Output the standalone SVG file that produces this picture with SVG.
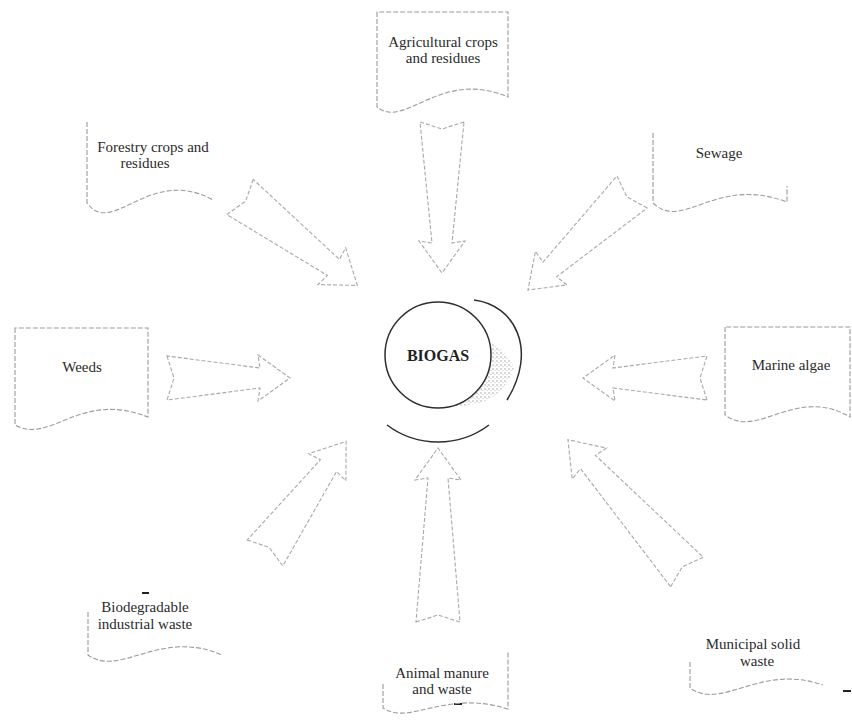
<svg xmlns="http://www.w3.org/2000/svg" width="852" height="721" viewBox="0 0 852 721">
<style>
.box{fill:none;stroke:#9c9c9c;stroke-width:1.1;stroke-dasharray:5 2}
.arr{fill:none;stroke:#a9a9a9;stroke-width:1.1;stroke-dasharray:4 2}
.lbl{font-family:"Liberation Serif","Times New Roman",serif;font-size:15px;fill:#2b2b2b;text-anchor:middle}
.ring{fill:none;stroke:#2e2e2e;stroke-width:1.5}
.mark{stroke:#222;stroke-width:2}
</style>
<defs>
<pattern id="stip" width="4" height="4" patternUnits="userSpaceOnUse"><circle cx="1" cy="1" r="0.8" fill="#888"/><circle cx="3" cy="2.6" r="0.6" fill="#a8a8a8"/></pattern>
</defs>
<rect width="852" height="721" fill="#fff"/>

<g id="biogas">
<path d="M491,343 A53 53 0 0 1 453,406 Q500,408 514,368 Q506,350 491,343 Z" fill="url(#stip)" opacity="0.75"/>
<circle class="ring" cx="438" cy="355" r="53"/>
<path class="ring" d="M474,300 C515,305 538,350 507,400"/>
<path class="ring" d="M387,425 A85 85 0 0 0 489,425"/>
<text x="438" y="361" style="font-family:'Liberation Serif','Times New Roman',serif;font-size:16px;font-weight:bold;fill:#222;text-anchor:middle">BIOGAS</text>
</g>

<g id="agricultural">
<path class="box" d="M377,12 V107 C405,130 440,68 508,97 V12 Z"/>
<text class="lbl" x="443" y="47">Agricultural crops</text>
<text class="lbl" x="443" y="63">and residues</text>
</g>

<g id="forestry">
<path class="box" d="M87,122 V203 C112,238 150,165 213,200"/>
<text class="lbl" x="153" y="152">Forestry crops and</text>
<text class="lbl" x="145" y="168">residues</text>
</g>

<g id="sewage">
<path class="box" d="M653,133 V203 C683,232 715,175 787,202 V186"/>
<text class="lbl" x="719" y="158">Sewage</text>
</g>

<g id="weeds">
<path class="box" d="M15,328 V425 C50,445 80,390 148,417 V328 Z"/>
<text class="lbl" x="82" y="372">Weeds</text>
</g>

<g id="marine">
<path class="box" d="M725,327 V415 C758,440 795,385 850,417 V327 Z"/>
<text class="lbl" x="791" y="370">Marine algae</text>
</g>

<g id="biodegradable">
<line class="mark" x1="142" y1="593" x2="149" y2="593"/>
<path class="box" d="M88,612 V655 C120,678 160,628 222,655"/>
<text class="lbl" x="145" y="612">Biodegradable</text>
<text class="lbl" x="145" y="629">industrial waste</text>
</g>

<g id="municipal">
<line class="mark" x1="843" y1="691" x2="851" y2="691"/>
<path class="box" d="M690,662 V688 C722,711 760,663 823,685"/>
<text class="lbl" x="753" y="649">Municipal solid</text>
<text class="lbl" x="757" y="666">waste</text>
</g>

<g id="animal">
<line class="mark" x1="454" y1="704" x2="462" y2="704"/>
<path class="box" d="M383,684 V708 C410,726 445,689 508,709 V652"/>
<text class="lbl" x="442" y="678">Animal manure</text>
<text class="lbl" x="442" y="694">and waste</text>
</g>

<g id="connectors">
<path class="arr" transform="translate(442,122) rotate(90)" d="M0,-22 L7,0 L0,22 L121,10 L119,23 L151,0 L119,-23 L121,-10 Z"/>
<path class="arr" transform="translate(240,197) rotate(37)" d="M0,-22 L7,0 L0,22 L117,10 L115,23 L147,0 L115,-23 L117,-10 Z"/>
<path class="arr" transform="translate(632,192) rotate(136.7)" d="M0,-22 L7,0 L0,22 L113,10 L111,23 L143,0 L111,-23 L113,-10 Z"/>
<path class="arr" transform="translate(167,378)" d="M0,-22 L7,0 L0,22 L93,10 L91,23 L123,0 L91,-23 L93,-10 Z"/>
<path class="arr" transform="translate(707,378) rotate(180)" d="M0,-22 L7,0 L0,22 L94,10 L92,23 L124,0 L92,-23 L94,-10 Z"/>
<path class="arr" transform="translate(265,553) rotate(-54)" d="M0,-22 L7,0 L0,22 L108,10 L106,23 L138,0 L106,-23 L108,-10 Z"/>
<path class="arr" transform="translate(438,622) rotate(-90)" d="M0,-22 L7,0 L0,22 L144,10 L142,23 L174,0 L142,-23 L144,-10 Z"/>
<path class="arr" transform="translate(687,572) rotate(-132)" d="M0,-22 L7,0 L0,22 L148,10 L146,23 L178,0 L146,-23 L148,-10 Z"/>
</g>
</svg>
